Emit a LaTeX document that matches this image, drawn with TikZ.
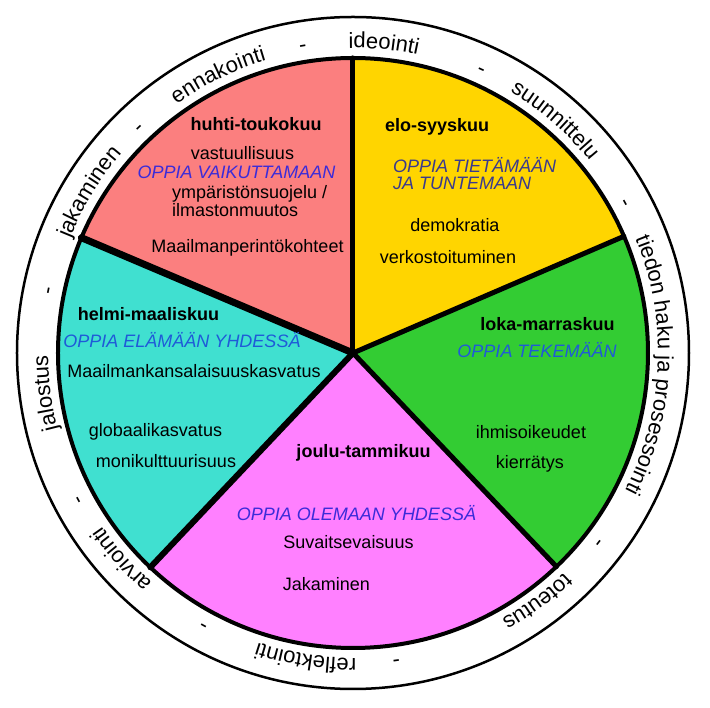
\documentclass[tikz,border=0pt]{standalone}
\usepackage{fontspec}
\setmainfont{Liberation Sans}
\usetikzlibrary{decorations.text}
\definecolor{segpink}{HTML}{FB7F7F}
\definecolor{segyellow}{HTML}{FFD500}
\definecolor{segcyan}{HTML}{40E0D0}
\definecolor{seggreen}{HTML}{33CC33}
\definecolor{segmagenta}{HTML}{FF80FF}
\definecolor{oppiaviolet}{HTML}{3B2BD9}
\definecolor{oppiablue}{HTML}{1F5AD8}
\definecolor{oppiaslate}{HTML}{3A3A8E}
\newcommand{\ringfont}{\fontsize{22}{22}\selectfont}
\tikzset{
	monthnode/.style={
			font=\fontsize{18}{18}\selectfont\bfseries,
			inner sep=0pt,
			anchor=base
		},
	topicnode/.style={
			font=\fontsize{18}{18}\selectfont,
			inner sep=0pt,
			anchor=base
		},
	oppianode/.style={
			topicnode,
			font=\fontsize{18}{18}\selectfont\itshape,
			text=oppiaviolet
		},
	divider/.style={
			line width=5pt,
			line cap=round
		},
	wheelline/.style={
			line width=4pt
		},
	ringline/.style={
			line width=2.5pt
		}
}

\begin{document}
\begin{tikzpicture}[x=1pt, y=1pt]
\useasboundingbox (-353,-355) rectangle (357,353);
    \coordinate (hub) at (0,0);
    \coordinate (rimA) at (90:295);
    \coordinate (rimB) at (157:295);
    \coordinate (rimC) at (226.6:295);
    \coordinate (rimD) at (313.6:295);
    \coordinate (rimE) at (23.3:295);

    \foreach \a/\b/\col in {90/157/segpink, 157/226.6/segcyan, 226.6/313.6/segmagenta, 313.6/383.3/seggreen, 23.3/90/segyellow}
        \fill[\col] (hub) -- (\a:295) arc[start angle=\a, end angle=\b, radius=295] -- cycle;

    \draw[divider] (hub) -- (rimA);
    \draw[divider, line width=7pt] (hub) -- (rimB);
    \draw[divider, line width=6pt] (hub) -- (rimC);
    \draw[divider] (hub) -- (rimD);
    \draw[divider] (hub) -- (rimE);
    \draw[wheelline] (hub) circle[radius=295];
    \draw[ringline] (hub) circle[radius=336];

    \foreach \ang/\word in {84.3/ideointi, 65.6/-, 49/suunnittelu, 28.9/-, -2.4/tiedon haku ja prosessointi, -37.6/-, -53.5/toteutus, -82/-, -98.8/reflektointi, -118.7/-, -138.3/arviointi, -151.8/-, -172.5/jalostus, 168.5/-, 148.6/jakaminen, 133.5/-, 115.9/ennakointi, 99.3/-}
        \path[decorate, decoration={text along path, text align=center, text/.expanded={|\noexpand\ringfont|\word}}]
            ({\ang+45}:305) arc[start angle=\ang+45, end angle=\ang-45, radius=305];

    \node[monthnode] (huhti) at (-97,222) {huhti-toukokuu};
    \node[topicnode] (vastuu) at (-110.5,193) {vastuullisuus};
    \node[oppianode] (vaikuttaa) at (-116.5,174) {OPPIA VAIKUTTAMAAN};
    \node[topicnode, anchor=base west] (ymparisto) at (-181,154) {ympäristönsuojelu /};
    \node[topicnode, anchor=base west] (ilmasto) at (-181,136) {ilmastonmuutos};
    \node[topicnode] (perinto) at (-105.5,100) {Maailmanperintökohteet};

    \node[monthnode, anchor=base west] (elo) at (32,221) {elo-syyskuu};
    \node[oppianode, anchor=base west, text=oppiaslate] (tietaa) at (40,180) {OPPIA TIETÄMÄÄN};
    \node[oppianode, anchor=base west, text=oppiaslate] (tuntea) at (40,163) {JA TUNTEMAAN};
    \node[topicnode] (demokratia) at (102,121) {demokratia};
    \node[topicnode] (verkosto) at (95,89) {verkostoituminen};

    \node[monthnode] (helmi) at (-204.5,32) {helmi-maaliskuu};
    \node[oppianode, text=oppiablue] (elaa) at (-171,5) {OPPIA ELÄMÄÄN YHDESSÄ};
    \node[topicnode] (kansalainen) at (-159,-25) {Maailmankansalaisuuskasvatus};
    \node[topicnode] (globaali) at (-197.5,-84) {globaalikasvatus};
    \node[topicnode] (monikult) at (-187,-115) {monikulttuurisuus};

    \node[monthnode] (loka) at (194.5,22) {loka-marraskuu};
    \node[oppianode, text=oppiablue] (tehda) at (184,-5) {OPPIA TEKEMÄÄN};
    \node[topicnode] (ihmisoik) at (178,-86) {ihmisoikeudet};
    \node[topicnode] (kierratys) at (177,-116) {kierrätys};

    \node[monthnode] (joulu) at (10.5,-105) {joulu-tammikuu};
    \node[oppianode] (olla) at (3.5,-168) {OPPIA OLEMAAN YHDESSÄ};
    \node[topicnode] (suvaitsevaisuus) at (-4.5,-196) {Suvaitsevaisuus};
    \node[topicnode] (jakaminen) at (-26.5,-238) {Jakaminen};

\end{tikzpicture}
\end{document}
